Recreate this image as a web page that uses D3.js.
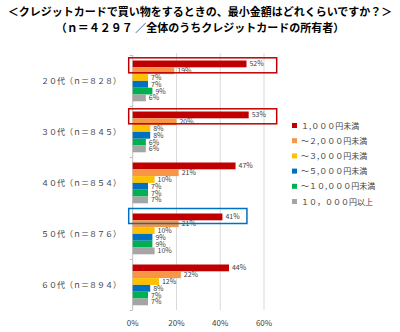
<!DOCTYPE html>
<html>
<head>
<meta charset="utf-8">
<script src="https://cdn.jsdelivr.net/npm/d3@7"></script>
<style>
  html, body { margin: 0; padding: 0; background: #fff; }
  svg { display: block; font-family: "Noto Sans CJK JP", "Noto Sans", sans-serif; }
</style>
</head>
<body>
<svg id="chart" width="400" height="332"></svg>
<script>
// Age groups (rows) and spending brackets (series)
const groups = ["２０代（ｎ＝８２８）", "３０代（ｎ＝８４５）", "４０代（ｎ＝８５４）", "５０代（ｎ＝８７６）", "６０代（ｎ＝８９４）"];
const series = ["１,０００円未満", "～２,０００円未満", "～３,０００円未満", "～５,０００円未満", "～１０,０００円未満", "１０，０００円以上"];
const colors = ["#c00000", "#f79646", "#ffc000", "#0070c0", "#00b050", "#a5a5a5"];

// Percent of respondents, one array per bracket, in group order
const under1000 = [52, 53, 47, 41, 44];
const under2000 = [19, 20, 21, 21, 22];
const under3000 = [7, 8, 10, 10, 12];
const under5000 = [7, 8, 7, 9, 8];
const under10000 = [9, 6, 7, 9, 7];
const over10000 = [6, 6, 7, 10, 7];
const values = [under1000, under2000, under3000, under5000, under10000, over10000];

const xTicks = [0, 20, 40, 60];

// Highlighted rows: group index, box colour, right end (percent)
const highlights = [
  { group: 0, color: "#c00000", end: 65.8 },
  { group: 1, color: "#c00000", end: 65.8 },
  { group: 3, color: "#0070c0", end: 52.2 }
];

const svg = d3.select("#chart");

// Title
const title = svg.append("g").attr("font-weight", "bold").attr("font-size", 11).attr("fill", "#000").attr("text-anchor", "middle");
title.append("text").attr("x", 200).attr("y", 16).text("＜クレジットカードで買い物をするときの、最小金額はどれくらいですか？＞");
title.append("text").attr("x", 200).attr("y", 32).text("（ｎ＝４２９７ ／全体のうちクレジットカードの所有者）");

const x = d3.scaleLinear().domain([0, 60]).range([132.7, 264]);
const y0 = d3.scaleBand().domain(groups).range([55, 310]);
const y1 = d3.scaleBand().domain(series).range([5.5, y0.bandwidth() - 4.7]);

// Gridlines
svg.append("g").selectAll("line").data(xTicks.filter(d => d > 0)).join("line")
  .attr("x1", d => x(d)).attr("x2", d => x(d))
  .attr("y1", 53).attr("y2", 310)
  .attr("stroke", "#d9d9d9").attr("stroke-width", 1);

// Category axis
const yAxis = svg.append("g").attr("transform", `translate(${x(0)},0)`);
yAxis.append("line").attr("x1", 0).attr("x2", 0).attr("y1", 55).attr("y2", 310).attr("stroke", "#bfbfbf");
yAxis.selectAll("line.tick").data(groups.map(g => y0(g)).concat([310])).join("line")
  .attr("class", "tick")
  .attr("x1", -3).attr("x2", 0).attr("y1", d => Math.round(d) + 0.5).attr("y2", d => Math.round(d) + 0.5)
  .attr("stroke", "#bfbfbf");

svg.append("g").attr("font-size", 8).attr("fill", "#404040").attr("text-anchor", "end")
  .selectAll("text").data(groups).join("text")
  .attr("x", 121).attr("y", g => y0(g) + y0.bandwidth() / 2 + 3)
  .text(g => g);

// Value axis labels
svg.append("g").attr("font-size", 8).attr("fill", "#404040").attr("text-anchor", "middle")
  .selectAll("text").data(xTicks).join("text")
  .attr("x", d => x(d)).attr("y", 326)
  .text(d => d + "%");

// Bars and value labels
const rows = svg.append("g").selectAll("g").data(groups).join("g")
  .attr("transform", g => `translate(0,${y0(g)})`);

rows.each(function (g, gi) {
  const row = d3.select(this);
  const data = series.map((s, si) => ({ s, si, v: values[si][gi] }));
  row.selectAll("rect").data(data).join("rect")
    .attr("x", x(0)).attr("y", d => y1(d.s))
    .attr("width", d => x(d.v) - x(0)).attr("height", y1.bandwidth())
    .attr("fill", d => colors[d.si]);
  row.selectAll("text").data(data).join("text")
    .attr("x", d => x(d.v) + 3).attr("y", d => y1(d.s) + y1.bandwidth() / 2 + 2.5)
    .attr("font-size", 7).attr("fill", "#404040")
    .text(d => d.v + "%");
});

// Highlight boxes around the first bracket of selected rows
svg.append("g").selectAll("rect").data(highlights).join("rect")
  .attr("x", x(0) - 4)
  .attr("y", h => y0(groups[h.group]) + y1(series[0]) - (h.color === "#0070c0" ? 5 : 2.7))
  .attr("width", h => x(h.end) - x(0) + 4)
  .attr("height", h => h.color === "#0070c0" ? 15 : 15)
  .attr("fill", "none").attr("stroke", h => h.color).attr("stroke-width", 1.5);

// Legend
const legend = svg.append("g").selectAll("g").data(series).join("g")
  .attr("transform", (s, i) => `translate(292,${123 + i * 15.2})`);
legend.append("rect").attr("width", 5).attr("height", 5).attr("fill", (s, i) => colors[i]);
legend.append("text").attr("x", 9).attr("y", 5.5).attr("font-size", 8).attr("fill", "#404040").text(s => s);
</script>
</body>
</html>
